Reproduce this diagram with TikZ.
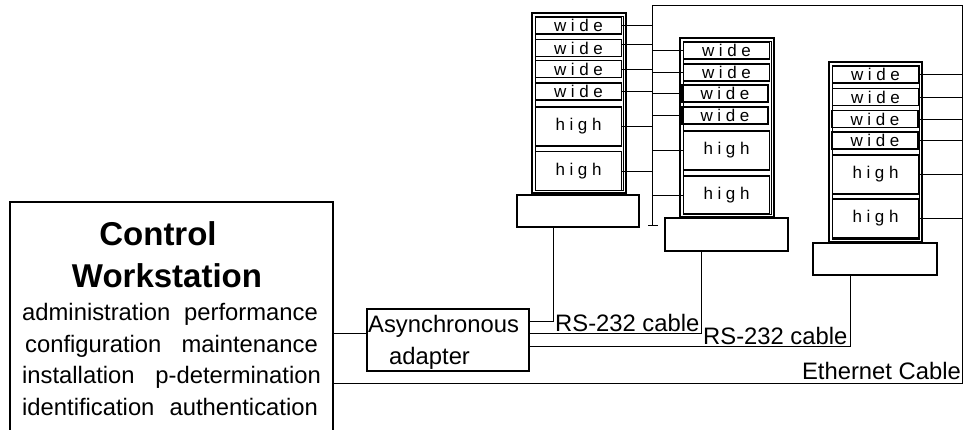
\documentclass[tikz,border=0pt]{standalone}
\usepackage{fontspec}
\setmainfont{Liberation Sans}
\newcommand\wtxt{w\kern4.6pt i\kern4.6pt d\kern4.6pt e}
\newcommand\htxt{h\kern4.6pt i\kern4.6pt g\kern4.6pt h}
\begin{document}
\begin{tikzpicture}[x=1pt,y=-1pt,
  cable/.style={line width=0.9pt, black},
  rackbox/.style={draw, line width=2.6pt, inner sep=0pt, outer sep=0pt},
  basebox/.style={draw, line width=2.6pt, inner sep=0pt, outer sep=0pt, minimum width=122pt, minimum height=32pt},
  slotbox/.style={draw, line width=1.1pt, inner sep=0pt, outer sep=0pt, minimum width=86pt, font=\fontsize{17}{18}\selectfont},
  wslot/.style={slotbox, minimum height=17pt},
  hslot/.style={slotbox, minimum height=39pt},
  txt/.style={inner sep=0pt, font=\fontsize{23.8}{28}\selectfont},
  ttl/.style={inner sep=0pt, font=\fontsize{33}{38}\selectfont\bfseries}]
\useasboundingbox (0,0) rectangle (966,429);

% ---------- Control workstation ----------
\node[draw, line width=2pt, minimum width=323pt, minimum height=240pt, anchor=north west, inner sep=0pt] (cw) at (9,201) {};
\node[ttl, anchor=base] (t1) at (158,245) {Control};
\node[ttl, anchor=base] (t2) at (167,287) {Workstation};
\node[txt, anchor=base west] (l1a) at (22,320) {administration};
\node[txt, anchor=base east] (l1b) at (318,320) {performance};
\node[txt, anchor=base west] (l2a) at (25,352) {configuration};
\node[txt, anchor=base east] (l2b) at (318,352) {maintenance};
\node[txt, anchor=base west] (l3a) at (22,383) {installation};
\node[txt, anchor=base east] (l3b) at (321,383) {p-determination};
\node[txt, anchor=base west] (l4a) at (22,415) {identification};
\node[txt, anchor=base east] (l4b) at (318,415) {authentication};

% ---------- Asynchronous adapter ----------
\node[draw, line width=2pt, minimum width=162pt, minimum height=62pt, inner sep=0pt] (ad) at (448,340) {};
\node[txt, anchor=base west] (ad1) at (368,332) {Asynchronous};
\node[txt, anchor=base west] (ad2) at (389,364) {adapter};

% ---------- Rack 1 ----------
\node[rackbox, minimum width=94pt, minimum height=180pt] (r1) at (579,103) {};
\draw[line width=0.6pt] ([shift={(3.2,3.2)}]r1.north west) rectangle ([shift={(-3.2,-3.2)}]r1.south east);
\node[wslot] (r1a) at (578.5,25.5) {\wtxt};
\node[wslot] (r1b) at (578.5,48) {\wtxt};
\node[wslot] (r1c) at (578.5,69) {\wtxt};
\node[wslot] (r1d) at (578.5,91.5) {\wtxt};
\node[hslot] (r1e) at (578.5,126.5) {\htxt};
\node[hslot] (r1f) at (578.5,171) {\htxt};
\node[basebox] (b1) at (578,211) {};

% ---------- Rack 2 ----------
\node[rackbox, minimum width=94pt, minimum height=179pt] (r2) at (727,127.5) {};
\draw[line width=0.6pt] ([shift={(3.2,3.2)}]r2.north west) rectangle ([shift={(-3.2,-3.2)}]r2.south east);
\node[wslot] (r2a) at (726.5,50.5) {\wtxt};
\node[wslot] (r2b) at (726.5,72.5) {\wtxt};
\node[wslot] (r2c) at (725,93.5) {\wtxt};
\node[wslot] (r2d) at (725,115.5) {\wtxt};
\node[hslot] (r2e) at (726.5,150.5) {\htxt};
\node[hslot, minimum height=38pt] (r2f) at (726.5,195) {\htxt};
\node[basebox, minimum width=123pt, minimum height=33pt] (b2) at (726.5,234.5) {};

% ---------- Rack 3 ----------
\node[rackbox, minimum width=93pt, minimum height=180pt] (r3) at (875.5,152) {};
\draw[line width=0.6pt] ([shift={(3.2,3.2)}]r3.north west) rectangle ([shift={(-3.2,-3.2)}]r3.south east);
\node[wslot] (r3a) at (875.5,74.5) {\wtxt};
\node[wslot] (r3b) at (875.5,97) {\wtxt};
\node[wslot] (r3c) at (875,119) {\wtxt};
\node[wslot] (r3d) at (875,140.5) {\wtxt};
\node[hslot] (r3e) at (875.5,174.5) {\htxt};
\node[hslot] (r3f) at (875.5,218.5) {\htxt};
\node[basebox, minimum width=124pt] (b3) at (875,259) {};

% ---------- Ethernet bus ----------
\coordinate (busT) at (652,5);
\coordinate (busB) at (652,225);
\coordinate (ethT) at (962,5);
\coordinate (ethB) at (962,383);
\draw[cable] (cw.east |- ethB) -- (ethB) -- (ethT) -- (busT) -- (busB);
\draw[cable] ([xshift=-4pt]busB) -- ([xshift=6pt]busB);
\foreach \s in {r1a,r1c,r1d,r1e,r1f} \draw[cable] (\s.east) -- (\s.east -| busT);
\draw[cable] (r1b.east |- 0,44) -- (busT |- 0,44);
\foreach \s in {r2a,r2b,r2c,r2d,r2e,r2f} \draw[cable] (\s.west) -- (\s.west -| busT);
\foreach \s in {r3a,r3b,r3c,r3d,r3e,r3f} \draw[cable] (\s.east) -- (\s.east -| ethT);

% ---------- RS-232 cables ----------
\draw[cable] (cw.east |- 0,333) -- (ad.west |- 0,333);
\draw[cable] (553,0 |- b1.south) -- (553,321) -- (ad.east |- 0,321);
\draw[cable] (701,0 |- b2.south) -- (701,333) -- (ad.east |- 0,333);
\draw[cable] (850,0 |- b3.south) -- (850,346) -- (ad.east |- 0,346);

\node[txt, anchor=base west] (rs1) at (555,331) {RS-232 cable};
\node[txt, anchor=base west] (rs2) at (703,344) {RS-232 cable};
\node[txt, anchor=base east] (eth) at (961,379) {Ethernet Cable};
\end{tikzpicture}
\end{document}
